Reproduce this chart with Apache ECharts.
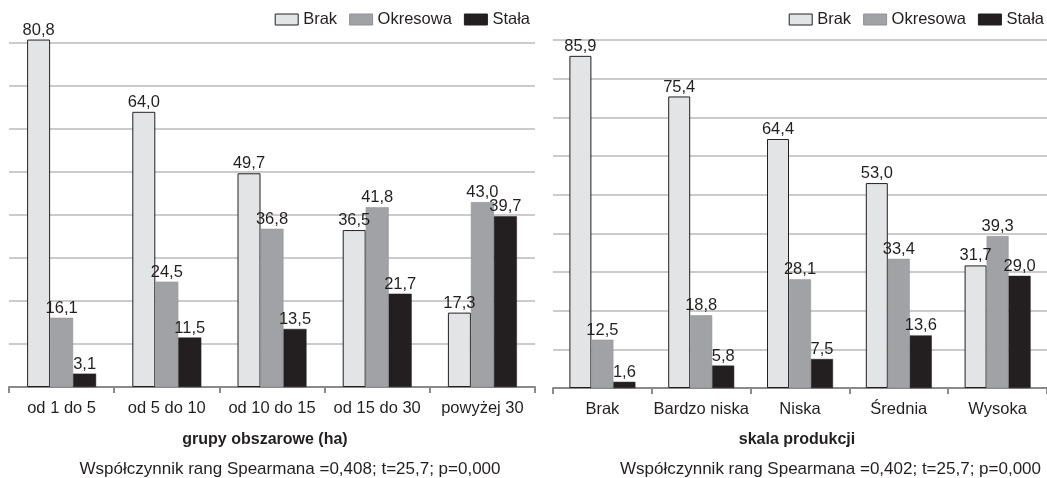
<!DOCTYPE html>
<html><head><meta charset="utf-8">
<script src="https://cdn.jsdelivr.net/npm/echarts@6/dist/echarts.min.js"></script>
<style>html,body{margin:0;padding:0;background:#fff}#c{width:1047px;height:478px}</style>
</head><body><div id="c"></div>
<script>
const seriesNames = ['Brak', 'Okresowa', 'Stała'];
const leftCategories = ['od 1 do 5', 'od 5 do 10', 'od 10 do 15', 'od 15 do 30', 'powyżej 30'];
const leftBrak = [80.8, 64.0, 49.7, 36.5, 17.3];
const leftOkresowa = [16.1, 24.5, 36.8, 41.8, 43.0];
const leftStala = [3.1, 11.5, 13.5, 21.7, 39.7];
const rightCategories = ['Brak', 'Bardzo niska', 'Niska', 'Średnia', 'Wysoka'];
const rightBrak = [85.9, 75.4, 64.4, 53.0, 31.7];
const rightOkresowa = [12.5, 18.8, 28.1, 33.4, 39.3];
const rightStala = [1.6, 5.8, 7.5, 13.6, 29.0];
const leftTitle = 'grupy obszarowe (ha)';
const rightTitle = 'skala produkcji';
const leftNote = 'Współczynnik rang Spearmana =0,408; t=25,7; p=0,000';
const rightNote = 'Współczynnik rang Spearmana =0,402; t=25,7; p=0,000';

const FONT = '"Liberation Sans", Arial, sans-serif';
const TXT = '#231f20';
const styles = [
  {color: '#e3e4e6', borderColor: '#231f20', borderWidth: 1},
  {color: '#a1a2a5', borderColor: '#8f9093', borderWidth: 0.5},
  {color: '#231f20', borderColor: '#231f20', borderWidth: 0.5}
];
function mkSeries(name, data, idx, gi, bw) {
  return {
    type: 'bar', name: name, data: data, xAxisIndex: gi, yAxisIndex: gi,
    barWidth: bw, barGap: '0%', clip: false,
    itemStyle: styles[idx],
    label: {show: true, position: 'top', distance: 1, fontFamily: FONT, fontSize: 16.5, color: TXT,
      formatter: p => p.value.toFixed(1).replace('.', ',')}
  };
}
function xAx(gi, cats) {
  return {type: 'category', gridIndex: gi, data: cats,
    axisLine: {lineStyle: {color: '#8a8a8a', width: 2}},
    axisTick: {show: true, length: 6, lineStyle: {color: '#8a8a8a', width: 2}},
    axisLabel: {fontFamily: FONT, fontSize: 16.5, color: TXT, margin: 13, interval: 0}};
}
function yAx(gi, max) {
  return {type: 'value', gridIndex: gi, min: 0, max: max, interval: 10,
    axisLine: {show: false}, axisTick: {show: false}, axisLabel: {show: false},
    splitLine: {lineStyle: {color: '#cbcbcb', width: 2}}};
}
const legendBase = {
  data: seriesNames, icon: 'rect', itemWidth: 23, itemHeight: 11, itemGap: 12,
  itemStyle: {borderWidth: 1},
  textStyle: {fontFamily: FONT, fontSize: 16.5, color: TXT},
  top: 11, padding: 0
};
const option = {
  animation: false,
  backgroundColor: '#fff',
  legend: [Object.assign({}, legendBase, {right: 517}), Object.assign({}, legendBase, {right: 3})],
  grid: [
    {left: 9, top: 43, width: 526, height: 344},
    {left: 553, top: 40, width: 497, height: 348}
  ],
  xAxis: [xAx(0, leftCategories), xAx(1, rightCategories)],
  yAxis: [yAx(0, 80), yAx(1, 90)],
  series: [
    mkSeries('Brak', leftBrak, 0, 0, 23),
    mkSeries('Okresowa', leftOkresowa, 1, 0, 23),
    mkSeries('Stała', leftStala, 2, 0, 23),
    mkSeries('Brak', rightBrak, 0, 1, 22),
    mkSeries('Okresowa', rightOkresowa, 1, 1, 22),
    mkSeries('Stała', rightStala, 2, 1, 22)
  ],
  graphic: [
    {type: 'text', x: 265, y: 440, style: {text: leftTitle, fontFamily: FONT, fontSize: 16, fontWeight: 'bold', fill: TXT, align: 'center', verticalAlign: 'middle'}},
    {type: 'text', x: 797, y: 440, style: {text: rightTitle, fontFamily: FONT, fontSize: 16, fontWeight: 'bold', fill: TXT, align: 'center', verticalAlign: 'middle'}},
    {type: 'text', x: 290, y: 469, style: {text: leftNote, fontFamily: FONT, fontSize: 17, fill: TXT, align: 'center', verticalAlign: 'middle'}},
    {type: 'text', x: 1041, y: 469, style: {text: rightNote, fontFamily: FONT, fontSize: 17, fill: TXT, align: 'right', verticalAlign: 'middle'}}
  ]
};
const chart = echarts.init(document.getElementById('c'), null, {renderer: 'canvas'});
chart.setOption(option);
</script>
</body></html>
